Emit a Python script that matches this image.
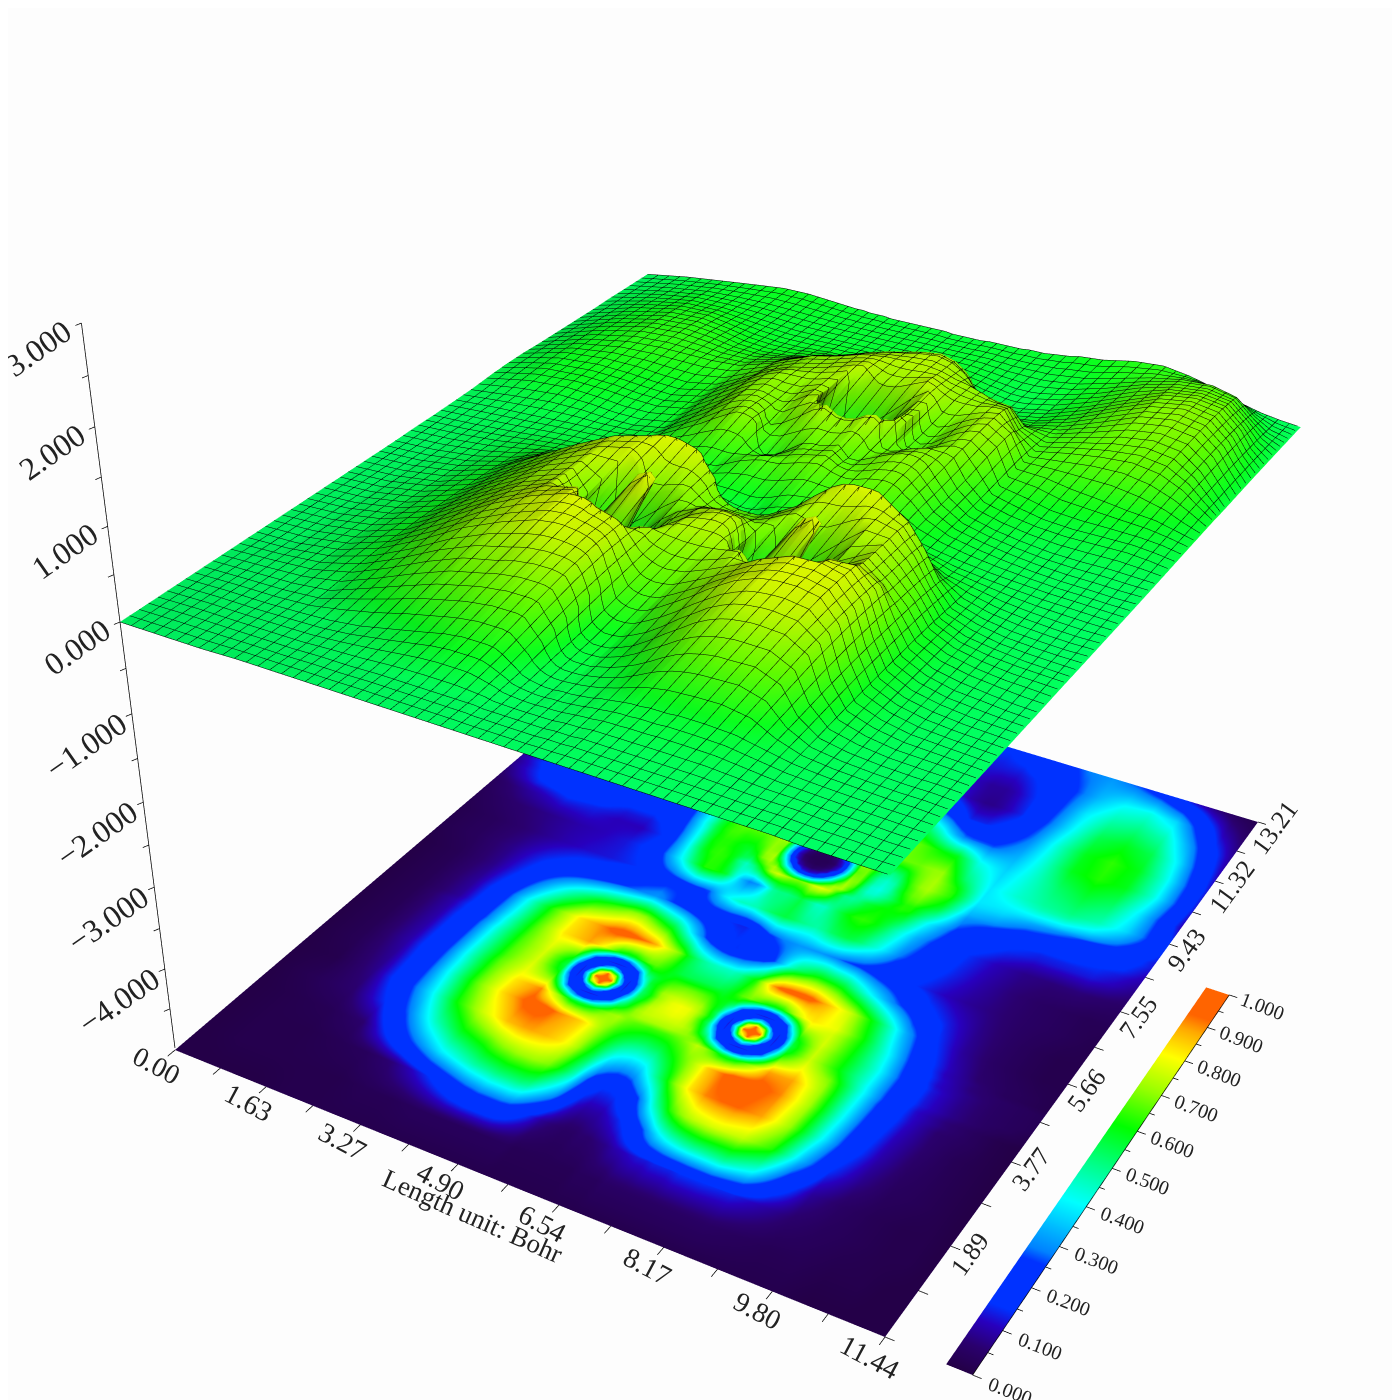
import numpy as np, plotly.graph_objects as go

X_MAX=11.44; Y_MAX=13.21
X_FRAC=[0,.06,.12,.17,.21,.25,.29, .329,.341,.353,.365,.375,.387,.399,.409,.421,.433,.446, .459,.471,.483,.493,.505,.517,.527,.539,
 .551,.563,.575,.587,.597,.609,.621,.631,.643,.655,.667, .70,.74,.78,.82,.86,.90,.94,.97,1]
Y_FRAC=[0,.05,.10,.14,.18,.22,.26,.287,.297,.307,.318,.327,.337,.347,.356,.367,.377,.387,.42,.46,.50,.54,.58,
 .611,.621,.631,.642,.651,.661,.671,.68,.691,.701,.711,.75,.79,.83,.87,.91,.95,1]
# function value x100, one row per Y_FRAC entry, one column per X_FRAC entry
VALUES=[
[0,0,0,1,1,1,1, 1,1,1,1,1,1,1,1,1,1,1, 1,1,1,1,1,1,1,1, 1,1,1,1,1,1,1,1,1,1,1, 1,1,1,1,1,0,0,0,0],
[0,1,1,1,1,2,2, 3,3,3,3,3,3,3,3,3,3,3, 3,2,2,2,2,2,2,2, 2,3,3,3,4,4,4,4,4,4,4, 4,4,3,2,2,1,1,0,0],
[0,1,1,2,3,6,12, 18,20,22,23,24,24,24,24,23,20,16, 12,8,6,5,4,4,5,5, 6,7,9,10,11,12,12,13,13,13,14, 14,13,9,5,3,2,1,1,0],
[0,1,2,5,16,27,38, 45,47,48,49,50,50,50,50,48,42,36, 30,22,15,11,9,9,9,11, 13,16,20,26,32,38,42,44,46,47,47, 48,40,20,8,4,2,1,1,0],
[0,2,5,14,28,45,58, 64,67,69,70,71,71,71,70,68,62,54, 45,32,22,18,15,15,16,20, 25,34,45,54,62,68,72,74,75,76,76, 74,62,34,14,7,3,2,1,0],
[0,1,7,20,38,60,75, 86,87,88,88,87,86,84,82,78,72,63, 55,46,38,35,33,33,35,42, 50,58,68,76,82,86,90,91,92,92,92, 88,70,42,18,9,4,2,1,0],
[0,2,8,21,43,66,83, 94,95,95,93,90,88,86,84,80,74,68, 62,58,55,53,52,53,54,58, 62,67,72,78,84,88,92,95,95,95,95, 90,72,44,20,10,5,2,1,0],
[0,2,9,22,44,66,82, 90,80,72,64,58,56,57,60,66,70,72, 68,66,65,64,64,64,65,67, 70,74,70,64,58,56,58,64,72,80,88, 88,71,44,21,11,5,3,1,0],
[0,2,9,22,45,66,80, 80,66,52,37,28,25,28,37,50,62,66, 70,72,72,72,72,72,71,70, 68,62,50,37,28,25,28,37,52,66,80, 84,70,44,21,11,6,3,1,0],
[0,2,9,22,45,66,78, 70,52,28,17,13,12,13,17,28,50,60, 70,74,75,75,75,75,74,70, 60,50,28,17,13,12,13,17,28,52,70, 80,68,44,22,11,6,3,1,0],
[0,2,9,22,45,65,77, 62,37,17,15,30,44,30,15,17,37,56, 66,74,76,77,78,77,74,66, 56,37,17,15,30,44,30,15,17,37,62, 77,63,43,22,12,7,4,2,1],
[0,2,9,22,45,65,76, 57,28,13,30,70,92,70,30,13,28,53, 62,72,76,78,79,78,74,64, 53,28,13,30,70,92,70,30,13,28,57, 75,60,43,22,12,7,4,3,1],
[0,2,9,22,45,65,76, 55,25,12,44,92,97,92,44,12,25,52, 60,70,75,78,79,78,74,66, 55,25,12,44,92,97,92,44,12,25,55, 75,60,43,22,12,7,4,3,2],
[0,2,9,22,45,65,76, 57,28,13,30,70,92,70,30,13,28,53, 62,71,74,75,75,74,72,64, 53,28,13,30,70,92,70,30,13,28,57, 75,60,43,22,12,7,4,3,2],
[0,2,9,22,45,65,77, 62,37,17,15,30,44,30,15,17,37,56, 62,68,70,71,71,70,68,62, 56,37,17,15,30,44,30,15,17,37,62, 76,60,42,21,11,7,4,3,2],
[0,2,9,21,44,65,78, 70,52,28,17,13,12,13,17,28,50,56, 60,64,66,67,67,66,64,60, 58,50,28,17,13,12,13,17,28,52,70, 76,60,41,20,11,6,4,3,2],
[0,2,9,21,44,65,80, 80,66,52,37,28,25,28,37,50,60,60, 58,60,60,60,60,60,60,58, 60,60,50,37,28,25,28,37,52,66,78, 76,60,40,19,10,6,3,2,1],
[0,2,8,21,43,65,82, 88,84,78,68,60,57,58,62,66,66,62, 58,55,54,54,54,54,54,56, 60,66,68,64,60,58,60,66,74,80,82, 78,60,38,18,10,5,3,2,1],
[0,2,8,20,42,64,82, 90,93,95,95,94,92,90,87,80,74,68, 58,52,48,46,45,45,45,48, 55,62,76,88,93,95,95,95,94,90,86, 75,55,32,15,8,4,2,1,1],
[0,2,7,16,30,45,58, 66,69,70,69,66,62,58,55,48,40,32, 25,20,17,15,14,15,16,18, 20,26,35,44,50,54,58,59,58,57,55, 42,28,17,12,7,4,2,1,1],
[1,3,7,13,17,20,24, 28,29,30,28,26,24,22,20,18,17,16, 15,14,13,13,15,20,24,26, 28,29,30,30,30,30,29,28,26,25,24, 19,15,11,8,6,4,3,2,1],
[1,3,6,9,11,12,14, 20,21,22,23,24,25,25,26,32,38,42, 45,45,46,49,52,54,55,53, 50,48,47,49,52,54,55,54,51,46,42, 28,18,13,9,6,4,3,2,2],
[2,5,7,9,10,12,16, 36,42,50,57,62,62,60,56,44,34,28, 30,38,48,50,50,52,55,50, 45,45,50,55,59,62,63,62,59,54,48, 33,20,14,10,7,6,6,5,4],
[3,8,12,12,10,10,15, 40,50,58,62,63,62,58,50,45,50,60, 72,76,72,69,68,70,76,78, 74,60,50,48,50,55,58,60,60,60,58, 40,24,18,14,12,12,12,10,7],
[4,10,14,13,11,11,16, 41,51,59,62,63,61,58,54,52,60,68, 72,62,47,38,35,38,47,62, 72,72,60,50,47,48,52,56,60,62,61, 45,26,20,15,13,13,13,11,8],
[5,13,16,15,12,12,17, 42,52,60,62,62,60,58,55,58,68,72, 62,40,24,14,12,14,24,40, 62,72,65,50,44,44,48,52,58,62,62, 50,28,22,17,15,15,14,12,9],
[6,15,18,16,14,14,19, 43,53,60,62,62,60,58,58,62,70,72, 47,24,10,6,4,6,10,24, 47,70,68,52,44,42,46,52,60,65,66, 55,30,26,20,18,17,16,14,10],
[7,16,19,18,16,15,20, 44,54,60,63,63,61,60,60,64,70,69, 38,14,6,3,2,3,6,14, 38,68,68,54,46,43,46,54,62,67,68, 58,33,30,24,22,20,18,15,11],
[7,17,20,19,16,16,21, 46,55,61,64,64,62,62,62,66,70,68, 35,12,4,2,2,2,4,12, 35,66,68,55,47,44,47,55,63,68,70, 60,35,33,28,25,22,20,16,12],
[8,18,20,19,17,16,22, 46,55,61,64,65,64,64,64,67,70,69, 38,14,6,3,2,3,6,14, 38,68,68,57,50,47,50,57,65,70,72, 62,37,36,32,29,25,22,17,12],
[8,18,21,20,18,17,23, 47,55,61,65,66,66,66,66,68,71,72, 47,24,10,6,4,6,10,24, 47,70,70,60,53,50,53,60,66,70,72, 62,38,38,37,36,32,26,19,13],
[8,19,22,21,19,18,24, 46,55,60,64,66,66,67,68,70,72,76, 62,40,24,14,12,14,24,40, 62,76,72,64,58,56,58,62,67,70,72, 60,38,40,42,42,38,30,22,14],
[8,19,23,22,20,19,25, 45,54,58,62,64,65,67,68,71,74,78, 72,62,47,38,35,38,47,62, 72,76,72,68,63,62,63,65,68,70,71, 56,38,42,46,47,42,33,24,14],
[8,20,24,24,22,21,26, 44,52,56,60,62,64,66,68,71,74,78, 80,76,72,69,68,69,72,76, 80,77,73,70,68,67,67,67,69,70,70, 52,38,44,48,50,46,36,25,15],
[6,20,28,30,30,30,32, 42,48,52,56,60,62,64,66,69,72,74, 75,76,76,76,76,76,76,75, 74,72,70,69,68,66,64,62,60,59,58, 42,36,44,52,56,52,38,24,10],
[5,20,30,32,30,27,27, 33,36,40,43,46,48,50,53,56,60,63, 66,68,70,72,74,75,76,74, 72,68,64,58,52,47,42,37,32,28,27, 26,32,44,58,62,58,43,27,12],
[4,18,28,30,27,22,20, 22,24,25,27,28,29,31,33,36,40,43, 46,48,50,51,52,52,52,49, 45,40,36,31,26,22,19,16,13,13,13, 17,28,44,58,63,58,42,26,12],
[3,16,25,26,22,18,16, 16,17,17,18,18,18,19,19,20,20,21, 22,23,24,25,25,25,24,22, 20,18,16,14,12,11,9,8,7,7,8, 13,25,40,54,58,54,38,22,10],
[3,13,20,20,18,16,14, 14,14,14,14,14,14,14,14,14,14,14, 15,15,16,16,16,16,16,15, 15,14,13,12,11,10,9,8,8,8,9, 14,24,38,47,50,46,30,17,8],
[2,10,16,17,17,16,15, 14,14,14,14,14,14,14,14,14,14,14, 14,14,14,14,14,14,14,14, 14,14,13,13,12,12,12,12,12,12,13, 16,24,33,40,42,36,20,10,5],
[1,8,13,17,20,20,18, 16,16,15,15,15,14,14,14,14,14,14, 14,14,13,13,13,13,13,14, 14,14,14,14,15,15,15,16,17,18,20, 22,28,30,26,20,12,6,3,1],
]
X_TICKS=["0.00","1.63","3.27","4.90","6.54","8.17","9.80","11.44"]
Y_TICKS=["1.89","3.77","5.66","7.55","9.43","11.32","13.21"]
Z_TICKS=[3,2,1,0,-1,-2,-3,-4]
BAR_TICKS=[0,.1,.2,.3,.4,.5,.6,.7,.8,.9,1]
TITLE="Length unit: Bohr"

# ---- camera calibration (page pixels; body margin is 8 px) ----
OFF=8; H=1400
F=(H/2)/np.tan(np.pi/8); px=OFF+700; py=OFF+700
def homog(a,b,c,d):
    a,b,c,d=map(np.array,(a,b,c,d))
    dx1=b-c; dx2=d-c; s=a-b+c-d
    det=dx1[0]*dx2[1]-dx1[1]*dx2[0]
    g=(s[0]*dx2[1]-s[1]*dx2[0])/det; h_=(dx1[0]*s[1]-dx1[1]*s[0])/det
    return np.array([[b[0]-a[0]+g*b[0],d[0]-a[0]+h_*d[0],a[0]],[b[1]-a[1]+g*b[1],d[1]-a[1]+h_*d[1],a[1]],[g,h_,1.]])
def cam(Hm):
    x,y,w=Hm
    return np.array([(x-px*w)/F,(py*w-y)/F,-w])
NS=cam(homog((120,622),(890,875),(1300,428),(647,275)))
NF=cam(homog((175,1050),(885,1337),(1258,822),(656,641)))
n1,n2=NS[:,0],NS[:,1]
vp=(650,5400)
target=-np.array([(vp[0]-px)/F,(py-vp[1])/F,-1.]); target/=np.linalg.norm(target)
b1=np.cross(n2,[1,0,0.]); b1/=np.linalg.norm(b1); b2=np.cross(n2,b1); b2/=np.linalg.norm(b2)
best=None
for t in np.linspace(0,2*np.pi,3601):
    ax=np.cos(t)*b1+np.sin(t)*b2
    ay=np.cross(n1,ax); ay/=np.linalg.norm(ay)
    for sg in (1,-1):
        az=np.cross(ax,sg*ay)
        q=az@target
        if best is None or q>best[0]: best=(q,ax,sg*ay,az)
_,ax,ay,az=best
D=1.05; C=np.array([0,0,-D]); RW=np.array([ax,ay,az])
def world(Pc): return RW@(np.asarray(Pc)-C)
def pix(Pc): return px+F*Pc[0]/-Pc[2], py-F*Pc[1]/-Pc[2]
def from_pix(x,y,d): return world(((x-px)/F*d,(py-y)/F*d,-d))
Ak=NS@np.array([0,0,1.])
kap=min(np.linspace(0,1,4001),key=lambda k:abs((pix(Ak)[1]-pix(Ak+k*az)[1])-95))
SF=1.35
def plane(N,s,u,v): return world(s*N@np.array([u,v,1.]))
def floor(u,v): return plane(NF,SF,u,v)
def zpix(z):
    y=(-106.1*z+622)/(-.01995*z+1)
    return 120+(y-622)*.1291,y

U=np.array(X_FRAC);V=np.array(Y_FRAC);VAL=np.array(VALUES)/100
wx=np.array([plane(NS,1,u,0)[0] for u in U]); wy=np.array([plane(NS,1,0,v)[1] for v in V])
wz=np.array([[plane(NS,1,u,v)[2] for u in U] for v in V])+kap*VAL
SCALE=[[0,'rgb(36,0,72)'],[.05,'rgb(42,0,110)'],[.1,'rgb(40,0,190)'],[.14,'rgb(0,50,255)'],[.25,'rgb(0,50,255)'],[.28,'rgb(0,130,255)'],[.4,'rgb(0,255,255)'],[.5,'rgb(0,255,128)'],[.6,'rgb(0,255,0)'],[.7,'rgb(150,255,0)'],[.8,'rgb(255,255,0)'],[.88,'rgb(255,170,0)'],[.92,'rgb(255,100,0)'],[1,'rgb(255,100,0)']]
SURF=[[0,'rgb(0,255,100)'],[.2,'rgb(10,255,30)'],[.5,'rgb(100,250,0)'],[.8,'rgb(190,245,0)'],[1,'rgb(230,245,0)']]
flat=dict(ambient=1,diffuse=0,specular=0,roughness=1,fresnel=0)
du=abs(wx[-1]-wx[0])/60; dv=abs(wy[-1]-wy[0])/69
x0,x1=min(wx[0],wx[-1]),max(wx[0],wx[-1]); y0,y1=min(wy[0],wy[-1]),max(wy[0],wy[-1])
p00,p10,p01=plane(NS,1,0,0),plane(NS,1,1,0),plane(NS,1,0,1)
nrm=np.cross(p10-p00,p01-p00); nrm/=np.linalg.norm(nrm); nrm=nrm*np.sign(nrm[2])
fig=go.Figure()
fl=np.array([[floor(u,v) for u in U] for v in V])
fig.add_surface(x=fl[...,0],y=fl[...,1],z=fl[...,2],surfacecolor=VAL,colorscale=SCALE,cmin=0,cmax=1,showscale=False,lighting=flat,hoverinfo='skip')
def mesh(phase):
    return dict(x=dict(show=True,color='black',width=2,start=float(x0+phase*du),end=float(x1+du*.01),size=float(2*du)),
                y=dict(show=True,color='black',width=2,start=float(y0+phase*dv),end=float(y1+dv*.01),size=float(2*dv)))
fig.add_surface(x=wx,y=wy,z=wz,surfacecolor=VAL,colorscale=SURF,cmin=0,cmax=1,showscale=False,hoverinfo='skip',
  lighting=dict(ambient=.1,diffuse=1,specular=0,roughness=1,fresnel=0),lightposition=dict(x=float(nrm[0]*1e4),y=float(nrm[1]*1e4),z=float(nrm[2]*1e4)),
  contours=mesh(0))
fig.add_surface(x=wx,y=wy,z=wz,surfacecolor=VAL,colorscale=SURF,cmin=0,cmax=1,showscale=False,hoverinfo='skip',hidesurface=True,contours=mesh(1))
# colour bar lying in the floor plane
BAR_LEVELS=[k/50 for k in range(51)]
BAR_U=[1.077,1.109]
bv=lambda val:-.003+.663*val
bar=np.array([[floor(u,bv(l)) for u in BAR_U] for l in BAR_LEVELS])
fig.add_surface(x=bar[...,0],y=bar[...,1],z=bar[...,2],surfacecolor=[[l,l] for l in BAR_LEVELS],colorscale=SCALE,cmin=0,cmax=1,showscale=False,lighting=flat,hoverinfo='skip')
# tick marks
segs=[]
def seg(a,b): segs.extend([a,b,[None]*3])
for k in range(15):
    u=k/14; seg(floor(u,0),floor(u,-.012))
for k in range(15):
    v=k/14; seg(floor(1,v),floor(1.012,v))
for k in range(21):
    v=bv(k/20); seg(floor(1.109,v),floor(1.12 if k%2==0 else 1.116,v))
seg(floor(1.109,bv(0)),floor(1.109,bv(1)))
AD=.99
seg(from_pix(*zpix(3),AD),from_pix(*zpix(-5),AD))
for k in range(-9,7):
    z=k/2; x,y=zpix(z); seg(from_pix(x,y,AD),from_pix(x-6,y+2.5,AD))
seg_arr=[[s[i] for s in segs] for i in range(3)]
fig.add_scatter3d(x=seg_arr[0],y=seg_arr[1],z=seg_arr[2],mode='lines',line=dict(color='black',width=1.5),hoverinfo='skip',connectgaps=False)
# labels
ann=[]
def label(p,t,ang,size):
    ann.append(dict(x=float(p[0]),y=float(p[1]),z=float(p[2]),text=t,textangle=ang,showarrow=False,xanchor='center',yanchor='middle',
       font=dict(family='Liberation Serif',size=size,color='#222')))
for i,t in enumerate(X_TICKS): label(floor(i/7,-.03),t,28,28)
for i,t in enumerate(Y_TICKS): label(floor(1.025,(i+1)/7),t,-54,26)
for z in Z_TICKS:
    x,y=zpix(z); dx,dy=(-43,25) if z>=0 else (-46,32)
    label(from_pix(x+dx,y+dy,AD),('%.3f'%abs(z) if z>=0 else '\u2212%.3f'%abs(z)),-35,32)
for b in BAR_TICKS: label(floor(1.155,bv(b)),'%.3f'%b,21,20)
label(floor(.494,-.056),TITLE,24,27)
R=1.2
hidden=dict(visible=False,range=[-R,R],autorange=False)
e=RW@(-C); up=RW@np.array([0,1.,0])
fig.update_layout(width=1400,height=1400,margin=dict(l=0,r=0,t=0,b=0),paper_bgcolor='#fdfdfd',showlegend=False,
 scene=dict(xaxis=hidden,yaxis=hidden,zaxis=hidden,aspectmode='manual',aspectratio=dict(x=2*R,y=2*R,z=2*R),annotations=ann,
  camera=dict(eye=dict(x=e[0],y=e[1],z=e[2]),center=dict(x=0,y=0,z=0),up=dict(x=up[0],y=up[1],z=up[2]),projection=dict(type='perspective')),domain=dict(x=[0,1],y=[0,1])))
fig.write_html("out.html")
